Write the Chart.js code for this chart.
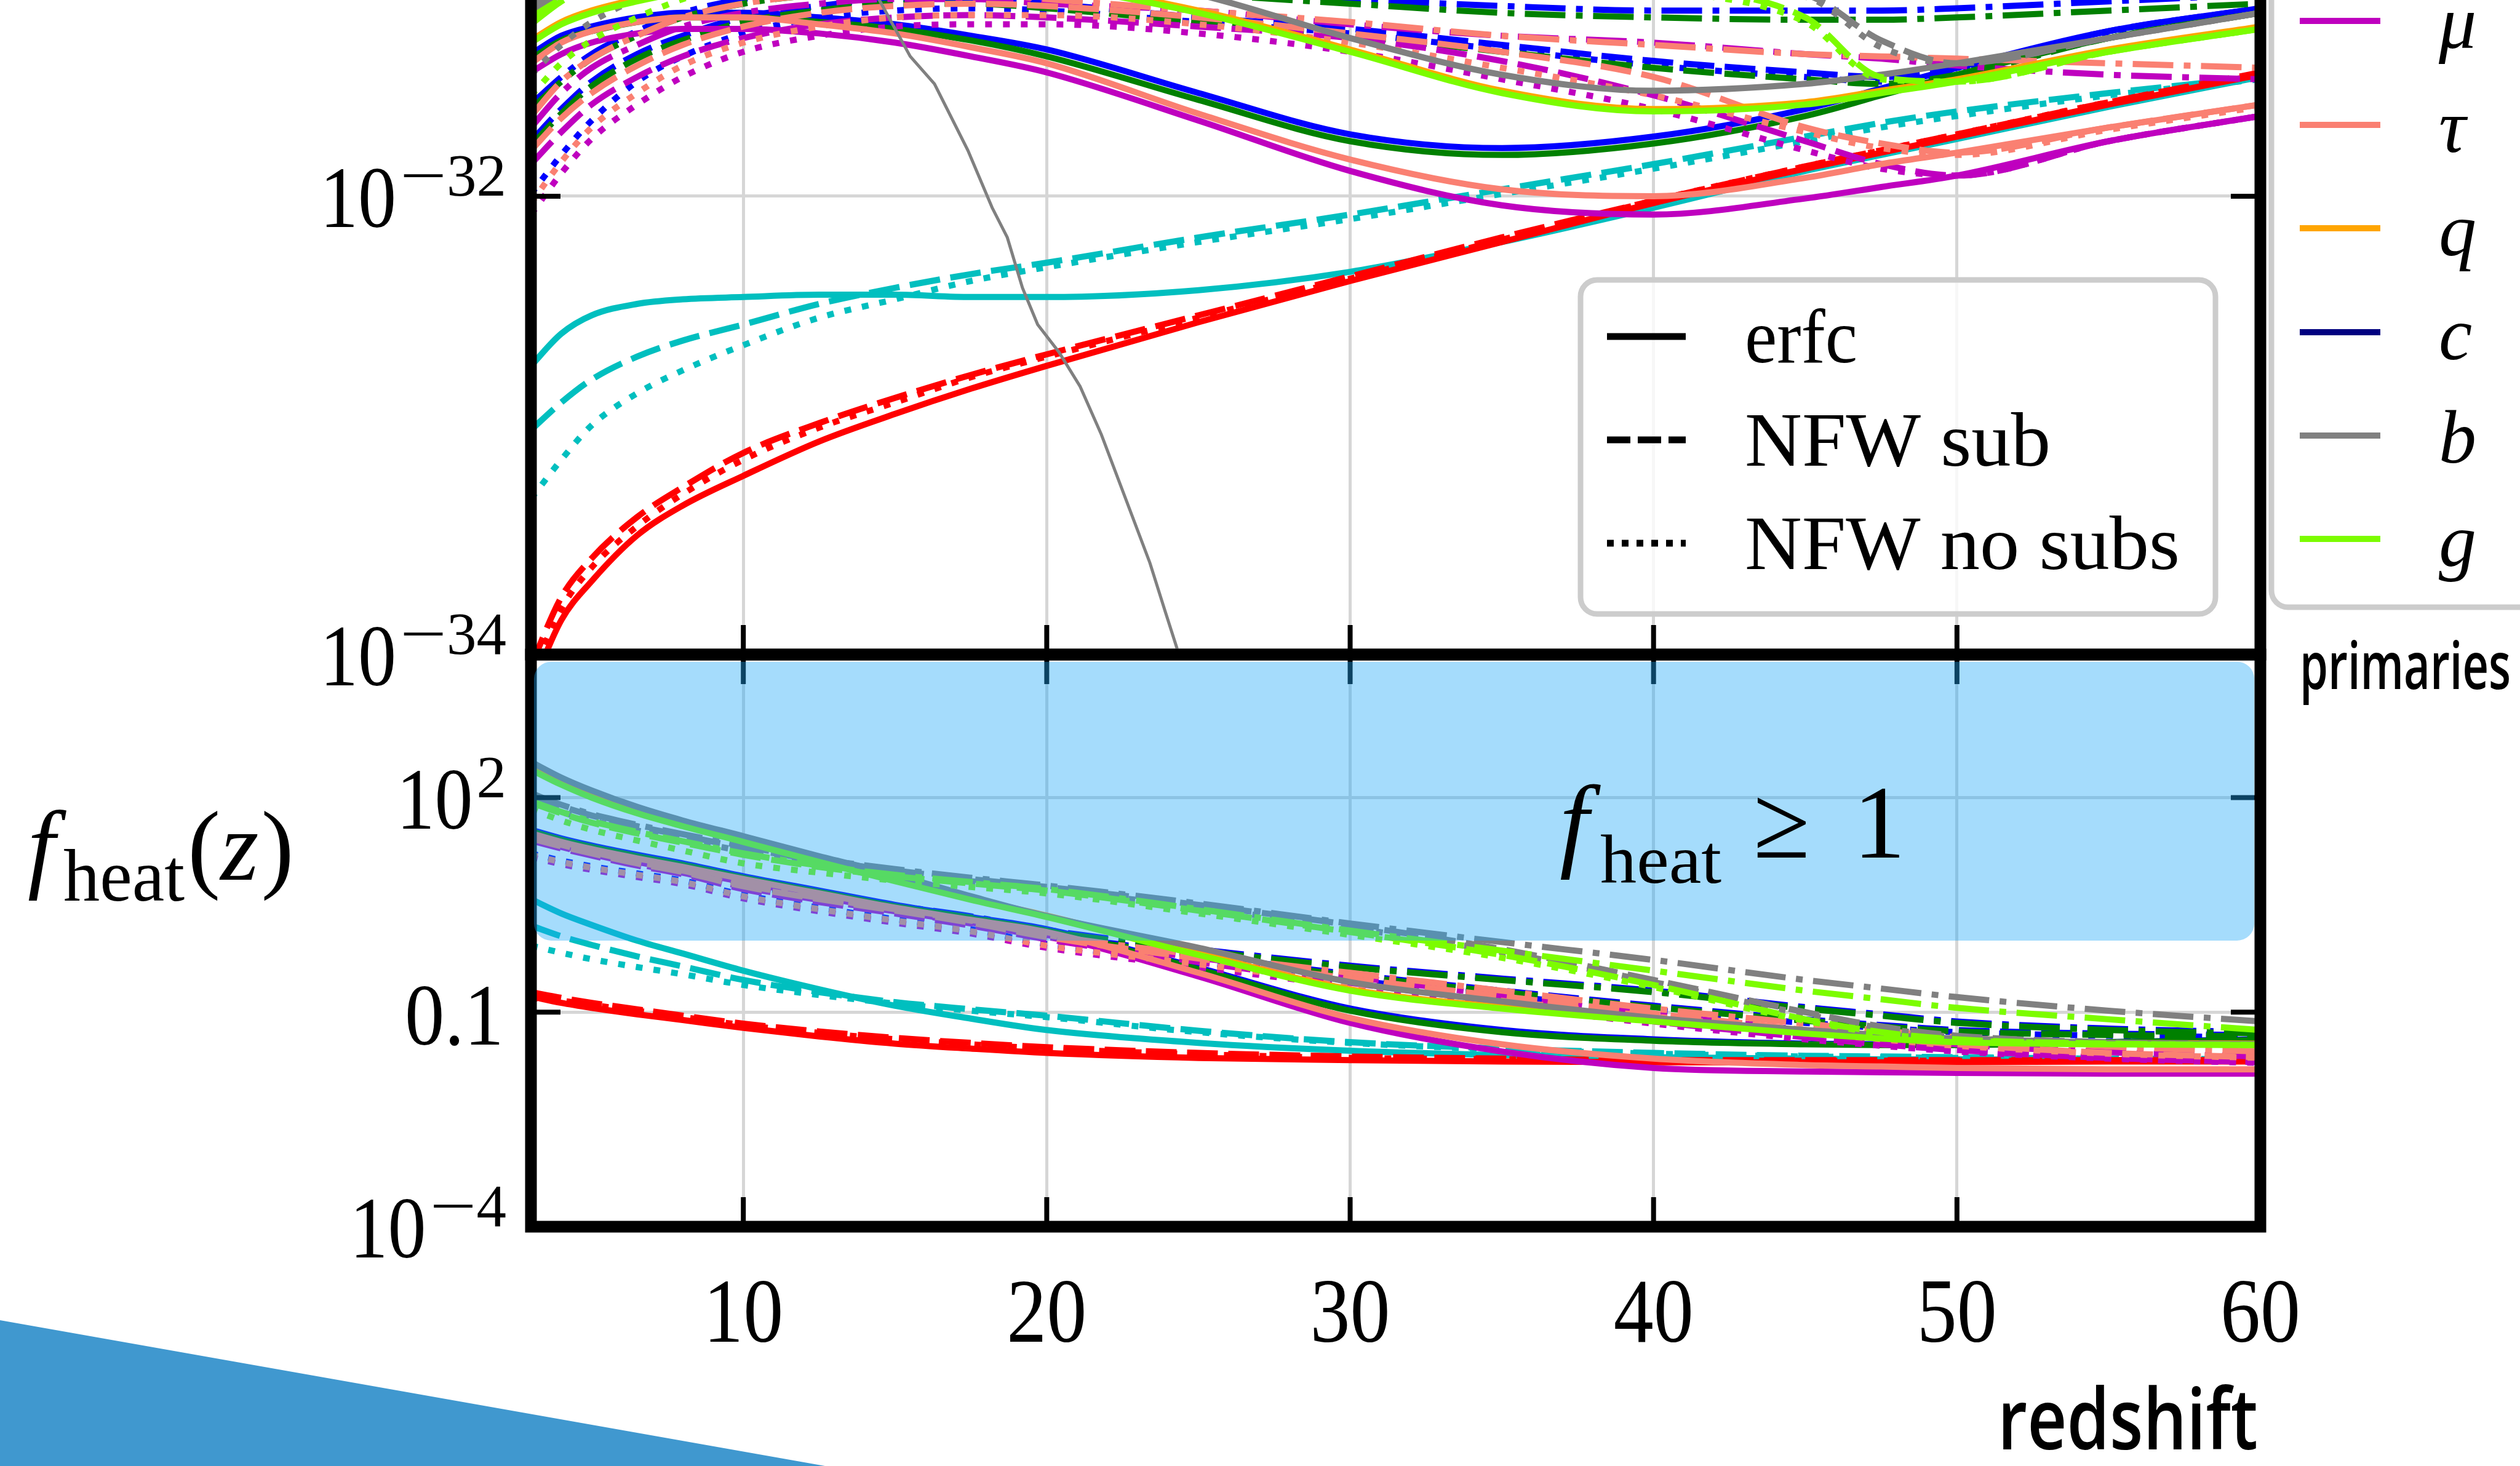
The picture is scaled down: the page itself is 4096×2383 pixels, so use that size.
<!DOCTYPE html>
<html lang="en">
<head>
<meta charset="UTF-8">
<title>Heating efficiency vs redshift</title>
<script src="https://cdn.jsdelivr.net/npm/chart.js@4.4.0/dist/chart.umd.min.js"></script>
<style>
    html, body { margin: 0; padding: 0; background: #fff; overflow: hidden; }
    canvas { position: absolute; left: 0; top: 0; }
</style>
</head>
<body>
<canvas id="lower" width="4096" height="2383"></canvas>
<canvas id="upper" width="4096" height="2383"></canvas>
<script>
// shared redshift grid for every curve
const redshift = [3, 4, 5, 6.5, 8, 10, 12.5, 15, 17.5, 20, 25, 30, 35, 40, 45, 47.5, 50, 55, 60];
const zTicks = [10, 20, 30, 40, 50, 60];
const upperTicks = [-34, -32];      // log10 tick positions
const lowerTicks = [-4, -1, 2];

// upper panel, log10 values (erfc = solid, sub = NFW sub, nosub = NFW no subs, dd = dash-dot)
const upW_erfc  = [-31.38, -31.30, -31.26, -31.22, -31.20, -31.20, -31.22, -31.25, -31.30, -31.36, -31.55, -31.73, -31.79, -31.74, -31.62, -31.53, -31.44, -31.28, -31.18];
const upW_sub   = [-31.76, -31.62, -31.50, -31.38, -31.30, -31.22, -31.17, -31.14, -31.14, -31.16, -31.22, -31.27, -31.34, -31.41, -31.46, -31.48, -31.44, -31.28, -31.18];
const upW_nosub = [-31.99, -31.82, -31.67, -31.50, -31.39, -31.29, -31.22, -31.19, -31.18, -31.19, -31.24, -31.29, -31.36, -31.43, -31.48, -31.50, -31.46, -31.30, -31.19];
const upW_dd    = [-31.60, -31.48, -31.38, -31.28, -31.20, -31.14, -31.10, -31.08, -31.07, -31.07, -31.10, -31.14, -31.17, -31.19, -31.19, -31.19, -31.18, -31.15, -31.12];
const upZ_erfc  = [-31.40, -31.32, -31.28, -31.24, -31.22, -31.22, -31.24, -31.27, -31.32, -31.39, -31.58, -31.76, -31.82, -31.77, -31.65, -31.56, -31.47, -31.31, -31.20];
const upZ_sub   = [-31.78, -31.64, -31.52, -31.40, -31.32, -31.24, -31.19, -31.16, -31.16, -31.18, -31.24, -31.30, -31.37, -31.44, -31.49, -31.51, -31.47, -31.31, -31.20];
const upZ_dd    = [-31.62, -31.50, -31.40, -31.30, -31.22, -31.16, -31.12, -31.10, -31.09, -31.09, -31.12, -31.16, -31.20, -31.22, -31.23, -31.23, -31.22, -31.19, -31.16];
const upGam_erfc  = [-32.74, -32.60, -32.52, -32.47, -32.45, -32.44, -32.43, -32.43, -32.44, -32.44, -32.41, -32.33, -32.20, -32.05, -31.89, -31.82, -31.75, -31.61, -31.48];
const upGam_sub   = [-33.02, -32.90, -32.80, -32.70, -32.63, -32.56, -32.47, -32.40, -32.34, -32.29, -32.18, -32.08, -31.97, -31.86, -31.74, -31.68, -31.63, -31.55, -31.48];
const upGam_nosub = [-33.32, -33.15, -33.00, -32.86, -32.76, -32.65, -32.53, -32.45, -32.37, -32.31, -32.20, -32.10, -31.99, -31.88, -31.76, -31.70, -31.65, -31.56, -31.49];
const upE_erfc  = [-34.15, -33.85, -33.68, -33.48, -33.35, -33.22, -33.07, -32.95, -32.84, -32.74, -32.55, -32.37, -32.20, -32.03, -31.88, -31.81, -31.74, -31.60, -31.47];
const upE_sub   = [-34.05, -33.75, -33.58, -33.40, -33.27, -33.12, -32.99, -32.88, -32.78, -32.69, -32.52, -32.35, -32.18, -32.02, -31.87, -31.80, -31.73, -31.59, -31.46];
const upE_nosub = [-34.10, -33.80, -33.62, -33.44, -33.30, -33.15, -33.01, -32.90, -32.79, -32.70, -32.53, -32.36, -32.19, -32.02, -31.87, -31.80, -31.73, -31.59, -31.47];
const upMu_erfc  = [-31.46, -31.38, -31.33, -31.29, -31.27, -31.27, -31.29, -31.33, -31.39, -31.46, -31.67, -31.89, -32.04, -32.08, -32.01, -31.96, -31.91, -31.76, -31.65];
const upMu_sub   = [-31.86, -31.72, -31.60, -31.48, -31.39, -31.31, -31.25, -31.22, -31.21, -31.22, -31.26, -31.31, -31.41, -31.56, -31.76, -31.86, -31.91, -31.76, -31.65];
const upMu_nosub = [-32.08, -31.90, -31.75, -31.60, -31.48, -31.37, -31.30, -31.26, -31.25, -31.25, -31.29, -31.37, -31.49, -31.62, -31.80, -31.88, -31.91, -31.76, -31.65];
const upMu_dd    = [-31.70, -31.55, -31.44, -31.34, -31.26, -31.20, -31.16, -31.14, -31.14, -31.16, -31.19, -31.25, -31.30, -31.33, -31.38, -31.40, -31.43, -31.47, -31.49];
const upTau_erfc  = [-31.42, -31.33, -31.28, -31.24, -31.22, -31.22, -31.25, -31.29, -31.35, -31.42, -31.64, -31.84, -31.97, -32.00, -31.92, -31.86, -31.81, -31.70, -31.60];
const upTau_sub   = [-31.80, -31.66, -31.55, -31.43, -31.34, -31.26, -31.20, -31.17, -31.16, -31.17, -31.22, -31.29, -31.37, -31.48, -31.70, -31.77, -31.81, -31.70, -31.60];
const upTau_nosub = [-32.03, -31.85, -31.70, -31.55, -31.43, -31.33, -31.26, -31.22, -31.21, -31.21, -31.25, -31.33, -31.44, -31.56, -31.72, -31.79, -31.82, -31.71, -31.61];
const upTau_dd    = [-31.65, -31.50, -31.40, -31.30, -31.22, -31.16, -31.12, -31.10, -31.11, -31.14, -31.19, -31.24, -31.30, -31.34, -31.38, -31.39, -31.40, -31.42, -31.44];
const upQ_erfc  = [-31.32, -31.24, -31.19, -31.14, -31.10, -31.06, -31.04, -31.03, -31.04, -31.07, -31.19, -31.36, -31.54, -31.62, -31.59, -31.54, -31.49, -31.36, -31.26];
const upB_erfc  = [-31.18, -31.12, -31.08, -31.04, -31.01, -30.98, -30.97, -30.97, -30.98, -31.00, -31.12, -31.31, -31.47, -31.54, -31.51, -31.47, -31.42, -31.31, -31.20];
const upB_sub   = [-31.20, -31.12, -31.06, -31.01, -30.97, -30.93, -30.91, -30.90, -30.90, -30.91, -30.94, -30.98, -31.02, -31.06, -31.12, -31.32, -31.42, -31.31, -31.20];
const upB_nosub = [-31.47, -31.34, -31.24, -31.14, -31.07, -31.00, -30.96, -30.94, -30.93, -30.93, -30.96, -31.00, -31.04, -31.08, -31.13, -31.35, -31.42, -31.31, -31.20];
const upB_dd    = [-31.17, -31.08, -31.02, -30.97, -30.93, -30.90, -30.88, -30.87, -30.86, -30.86, -30.87, -30.89, -30.91, -30.93, -30.95, -30.96, -30.97, -30.98, -30.99];
const upG_erfc  = [-31.33, -31.25, -31.20, -31.15, -31.11, -31.07, -31.05, -31.04, -31.05, -31.08, -31.20, -31.37, -31.55, -31.63, -31.60, -31.55, -31.50, -31.37, -31.27];
const upG_sub   = [-31.22, -31.14, -31.08, -31.03, -30.99, -30.95, -30.93, -30.92, -30.92, -30.93, -30.96, -31.00, -31.04, -31.08, -31.22, -31.48, -31.50, -31.37, -31.27];
const upG_nosub = [-31.56, -31.42, -31.32, -31.22, -31.14, -31.06, -31.00, -30.97, -30.96, -30.96, -30.98, -31.02, -31.06, -31.10, -31.24, -31.49, -31.50, -31.37, -31.27];
const upG_dd    = [-31.25, -31.15, -31.08, -31.02, -30.98, -30.94, -30.92, -30.91, -30.90, -30.90, -30.91, -30.93, -30.95, -30.97, -30.99, -31.00, -31.01, -31.02, -31.03];

// thin b curve that falls through the upper panel
const bDropZ   = [14.3, 15.5, 16.3, 17.4, 18.2, 18.7, 19.2, 19.7, 20.4, 21.1, 21.8, 22.6, 23.4, 23.9, 24.6];
const bDropLog = [-31.10, -31.39, -31.51, -31.80, -32.05, -32.18, -32.40, -32.56, -32.68, -32.83, -33.04, -33.32, -33.60, -33.81, -34.10];

// lower panel, log10 f_heat
const loW_erfc  = [1.55, 1.43, 1.33, 1.20, 1.08, 0.90, 0.70, 0.50, 0.33, 0.16, -0.38, -0.95, -1.25, -1.38, -1.44, -1.45, -1.45, -1.42, -1.38];
const loW_sub   = [1.47, 1.36, 1.26, 1.12, 1.00, 0.80, 0.62, 0.46, 0.30, 0.10, -0.20, -0.47, -0.70, -0.91, -1.10, -1.18, -1.25, -1.30, -1.32];
const loW_nosub = [1.22, 1.12, 1.04, 0.94, 0.84, 0.64, 0.46, 0.30, 0.16, -0.05, -0.30, -0.55, -0.77, -0.97, -1.15, -1.22, -1.28, -1.33, -1.35];
const loW_dd    = [1.50, 1.39, 1.29, 1.15, 1.03, 0.83, 0.65, 0.49, 0.34, 0.15, -0.12, -0.35, -0.53, -0.70, -0.93, -1.03, -1.13, -1.23, -1.28];
const loZ_erfc  = [1.53, 1.41, 1.31, 1.18, 1.06, 0.88, 0.68, 0.48, 0.31, 0.14, -0.40, -0.98, -1.28, -1.40, -1.45, -1.46, -1.46, -1.42, -1.39];
const loZ_sub   = [1.45, 1.34, 1.24, 1.10, 0.98, 0.78, 0.60, 0.44, 0.28, 0.08, -0.22, -0.49, -0.72, -0.93, -1.12, -1.20, -1.27, -1.32, -1.34];
const loZ_dd    = [1.48, 1.37, 1.27, 1.13, 1.01, 0.81, 0.63, 0.47, 0.32, 0.13, -0.14, -0.37, -0.55, -0.72, -0.95, -1.05, -1.15, -1.25, -1.30];
const loGam_erfc  = [0.58, 0.38, 0.22, 0.00, -0.18, -0.42, -0.68, -0.91, -1.09, -1.25, -1.43, -1.54, -1.60, -1.63, -1.65, -1.66, -1.66, -1.67, -1.67];
const loGam_sub   = [0.21, 0.06, -0.06, -0.22, -0.36, -0.55, -0.72, -0.86, -0.96, -1.05, -1.26, -1.42, -1.51, -1.57, -1.61, -1.62, -1.63, -1.65, -1.66];
const loGam_nosub = [-0.07, -0.17, -0.26, -0.37, -0.47, -0.62, -0.76, -0.88, -0.98, -1.07, -1.28, -1.43, -1.52, -1.58, -1.62, -1.63, -1.64, -1.65, -1.66];
const loE_erfc  = [-0.78, -0.87, -0.94, -1.03, -1.11, -1.22, -1.34, -1.44, -1.51, -1.57, -1.64, -1.67, -1.69, -1.70, -1.70, -1.70, -1.70, -1.69, -1.69];
const loE_sub   = [-0.72, -0.80, -0.87, -0.96, -1.05, -1.16, -1.27, -1.36, -1.43, -1.49, -1.57, -1.62, -1.65, -1.67, -1.67, -1.67, -1.67, -1.67, -1.67];
const loE_nosub = [-0.80, -0.84, -0.90, -0.98, -1.07, -1.18, -1.29, -1.38, -1.45, -1.51, -1.59, -1.64, -1.66, -1.68, -1.68, -1.68, -1.68, -1.68, -1.68];
const loMu_erfc  = [1.45, 1.33, 1.23, 1.10, 0.98, 0.82, 0.62, 0.42, 0.25, 0.08, -0.50, -1.15, -1.55, -1.78, -1.83, -1.84, -1.85, -1.86, -1.86];
const loMu_sub   = [1.40, 1.29, 1.19, 1.05, 0.93, 0.72, 0.54, 0.38, 0.21, 0.02, -0.30, -0.59, -0.86, -1.13, -1.35, -1.45, -1.53, -1.64, -1.70];
const loMu_nosub = [1.17, 1.07, 0.99, 0.89, 0.79, 0.59, 0.41, 0.25, 0.10, -0.10, -0.37, -0.64, -0.90, -1.16, -1.38, -1.47, -1.55, -1.65, -1.71];
const loMu_dd    = [1.42, 1.31, 1.21, 1.07, 0.95, 0.75, 0.57, 0.41, 0.24, 0.05, -0.24, -0.50, -0.77, -1.03, -1.25, -1.35, -1.45, -1.56, -1.62];
const loTau_erfc  = [1.50, 1.38, 1.28, 1.15, 1.03, 0.86, 0.66, 0.46, 0.29, 0.12, -0.45, -1.08, -1.45, -1.65, -1.74, -1.76, -1.78, -1.80, -1.80];
const loTau_sub   = [1.43, 1.32, 1.22, 1.08, 0.96, 0.76, 0.58, 0.42, 0.25, 0.05, -0.25, -0.53, -0.78, -1.02, -1.25, -1.36, -1.45, -1.57, -1.63];
const loTau_nosub = [1.20, 1.10, 1.02, 0.92, 0.82, 0.62, 0.44, 0.28, 0.13, -0.07, -0.33, -0.60, -0.84, -1.06, -1.28, -1.38, -1.47, -1.58, -1.64];
const loTau_dd    = [1.45, 1.34, 1.24, 1.10, 0.98, 0.78, 0.60, 0.44, 0.28, 0.08, -0.20, -0.45, -0.70, -0.95, -1.16, -1.26, -1.35, -1.48, -1.55];
const loQ_erfc  = [2.41, 2.20, 2.02, 1.80, 1.62, 1.40, 1.12, 0.85, 0.59, 0.35, -0.18, -0.68, -0.93, -1.11, -1.28, -1.35, -1.40, -1.43, -1.44];
const loB_erfc  = [2.50, 2.28, 2.10, 1.87, 1.68, 1.46, 1.18, 0.92, 0.62, 0.34, -0.10, -0.58, -0.85, -1.08, -1.25, -1.32, -1.37, -1.43, -1.45];
const loB_sub   = [2.04, 1.88, 1.75, 1.60, 1.47, 1.30, 1.12, 0.98, 0.86, 0.75, 0.50, 0.22, -0.12, -0.55, -1.00, -1.20, -1.33, -1.42, -1.45];
const loB_nosub = [1.95, 1.80, 1.68, 1.54, 1.42, 1.25, 1.08, 0.95, 0.83, 0.72, 0.46, 0.18, -0.16, -0.58, -1.03, -1.22, -1.35, -1.43, -1.45];
const loB_dd    = [2.06, 1.90, 1.77, 1.62, 1.49, 1.32, 1.14, 1.00, 0.88, 0.77, 0.52, 0.24, -0.02, -0.27, -0.55, -0.67, -0.79, -0.98, -1.13];
const loG_erfc  = [2.39, 2.18, 2.00, 1.78, 1.60, 1.38, 1.10, 0.83, 0.57, 0.33, -0.20, -0.70, -0.95, -1.13, -1.30, -1.37, -1.42, -1.45, -1.46];
const loG_sub   = [1.93, 1.78, 1.65, 1.50, 1.37, 1.20, 1.03, 0.90, 0.80, 0.70, 0.42, 0.12, -0.20, -0.62, -1.10, -1.28, -1.38, -1.44, -1.46];
const loG_nosub = [1.84, 1.68, 1.55, 1.40, 1.26, 1.08, 0.95, 0.84, 0.75, 0.66, 0.38, 0.08, -0.24, -0.65, -1.12, -1.30, -1.39, -1.44, -1.46];
const loG_dd    = [1.95, 1.80, 1.67, 1.52, 1.39, 1.22, 1.05, 0.92, 0.82, 0.72, 0.44, 0.14, -0.14, -0.42, -0.70, -0.82, -0.94, -1.10, -1.25];

// f_heat >= 1 band, in data units
const bandZ = [3.1, 59.8];
const bandLog = [0, 3.9];

// legend entries
const primaryLabels = ['μ', 'τ', 'q', 'c', 'b', 'g'];
const profileLabels = ['erfc', 'NFW sub', 'NFW no subs'];

const colors = {
    W: '#0000ff', Z: '#008000', gam: '#00bfbf', e: '#ff0000', mu: '#bf00bf',
    tau: '#fa8072', q: '#ffa500', c: '#000080', b: '#808080', g: '#7cfc00'
};
const primaryColors = [colors.mu, colors.tau, colors.q, colors.c, colors.b, colors.g];
const dashes = { erfc: [], sub: [50, 17], nosub: [11, 18], dd: [66, 17, 11, 17] };

const SPINE = 19;
const TICK_LEN = 48;
const GRID = '#d6d6d6';
const serif = (px, italic) => (italic ? 'italic ' : '') + px + 'px "Liberation Serif", "Times New Roman", serif';
const sans = px => '600 ' + px + 'px "Open Sans", "Noto Sans", sans-serif';

function curve(ys, color, style, width = 10, xs = redshift, smooth = true) {
    return {
        data: xs.map((z, i) => ({ x: z, y: ys[i] })),
        borderColor: color,
        borderWidth: width,
        borderDash: dashes[style],
        borderCapStyle: 'butt',
        pointRadius: 0,
        fill: false,
        tension: smooth ? 0.4 : 0,
        cubicInterpolationMode: smooth ? 'monotone' : 'default'
    };
}

// listed bottom-to-top, reversed because Chart.js paints index 0 last
const upperSets = [
    curve(upW_erfc, colors.W, 'erfc'), curve(upW_sub, colors.W, 'sub'), curve(upW_nosub, colors.W, 'nosub'), curve(upW_dd, colors.W, 'dd'),
    curve(upZ_erfc, colors.Z, 'erfc'), curve(upZ_sub, colors.Z, 'sub'), curve(upZ_dd, colors.Z, 'dd'),
    curve(upGam_erfc, colors.gam, 'erfc'), curve(upGam_sub, colors.gam, 'sub'), curve(upGam_nosub, colors.gam, 'nosub'),
    curve(upE_erfc, colors.e, 'erfc'), curve(upE_sub, colors.e, 'sub'), curve(upE_nosub, colors.e, 'nosub'),
    curve(upMu_erfc, colors.mu, 'erfc'), curve(upMu_sub, colors.mu, 'sub'), curve(upMu_nosub, colors.mu, 'nosub'), curve(upMu_dd, colors.mu, 'dd'),
    curve(upTau_erfc, colors.tau, 'erfc'), curve(upTau_sub, colors.tau, 'sub'), curve(upTau_nosub, colors.tau, 'nosub'), curve(upTau_dd, colors.tau, 'dd'),
    curve(upQ_erfc, colors.q, 'erfc'),
    curve(upB_erfc, colors.b, 'erfc'), curve(upB_sub, colors.b, 'sub'), curve(upB_nosub, colors.b, 'nosub'), curve(upB_dd, colors.b, 'dd'),
    curve(bDropLog, colors.b, 'erfc', 5, bDropZ, false),
    curve(upG_erfc, colors.g, 'erfc'), curve(upG_sub, colors.g, 'sub'), curve(upG_nosub, colors.g, 'nosub'), curve(upG_dd, colors.g, 'dd')
].reverse();

const lowerSets = [
    curve(loW_erfc, colors.W, 'erfc'), curve(loW_sub, colors.W, 'sub'), curve(loW_nosub, colors.W, 'nosub'), curve(loW_dd, colors.W, 'dd'),
    curve(loZ_erfc, colors.Z, 'erfc'), curve(loZ_sub, colors.Z, 'sub'), curve(loZ_dd, colors.Z, 'dd'),
    curve(loGam_erfc, colors.gam, 'erfc'), curve(loGam_sub, colors.gam, 'sub'), curve(loGam_nosub, colors.gam, 'nosub'),
    curve(loE_erfc, colors.e, 'erfc'), curve(loE_sub, colors.e, 'sub'), curve(loE_nosub, colors.e, 'nosub'),
    curve(loMu_erfc, colors.mu, 'erfc'), curve(loMu_sub, colors.mu, 'sub'), curve(loMu_nosub, colors.mu, 'nosub'), curve(loMu_dd, colors.mu, 'dd'),
    curve(loTau_erfc, colors.tau, 'erfc'), curve(loTau_sub, colors.tau, 'sub'), curve(loTau_nosub, colors.tau, 'nosub'), curve(loTau_dd, colors.tau, 'dd'),
    curve(loQ_erfc, colors.q, 'erfc'),
    curve(loB_erfc, colors.b, 'erfc'), curve(loB_sub, colors.b, 'sub'), curve(loB_nosub, colors.b, 'nosub'), curve(loB_dd, colors.b, 'dd'),
    curve(loG_erfc, colors.g, 'erfc'), curve(loG_sub, colors.g, 'sub'), curve(loG_nosub, colors.g, 'nosub'), curve(loG_dd, colors.g, 'dd')
].reverse();

// text helper: optional target width squeezes/stretches horizontally
function txt(ctx, s, x, y, font, opts = {}) {
    ctx.font = font;
    const w = ctx.measureText(s).width;
    const sx = opts.width ? opts.width / w : 1;
    let left = x;
    if (opts.align === 'right') left = x - w * sx;
    else if (opts.align === 'center') left = x - w * sx / 2;
    ctx.save();
    ctx.translate(left, y);
    ctx.scale(sx, 1);
    ctx.textAlign = 'left';
    ctx.textBaseline = 'alphabetic';
    ctx.fillStyle = opts.color || '#000';
    ctx.fillText(s, 0, 0);
    ctx.restore();
    return left + w * sx;
}

function roundRectPath(ctx, x, y, w, h, r) {
    ctx.beginPath();
    ctx.moveTo(x + r, y);
    ctx.arcTo(x + w, y, x + w, y + h, r);
    ctx.arcTo(x + w, y + h, x, y + h, r);
    ctx.arcTo(x, y + h, x, y, r);
    ctx.arcTo(x, y, x + w, y, r);
    ctx.closePath();
}

// "10^n" / "0.1" labels left of the axis
function powerLabel(ctx, v, py) {
    const supRight = 823;
    if (v === -1) {
        txt(ctx, '0.1', 819, py + 53, serif(141), { width: 161, align: 'right' });
        return;
    }
    const digits = String(Math.abs(v));
    ctx.font = serif(97);
    const dw = ctx.measureText(digits).width;
    const minusW = v < 0 ? 76 : 0;
    const supLeft = supRight - dw - minusW;
    if (v < 0) txt(ctx, '−', supLeft, py - 1, serif(97), { width: minusW });
    txt(ctx, digits, supLeft + minusW, py - 1, serif(97));
    txt(ctx, '10', supLeft - 6, py + 50, serif(141), { width: 124, align: 'right' });
}

function inwardTicks(ctx, a, x, y, withTop) {
    ctx.strokeStyle = '#000';
    ctx.lineWidth = 8;
    ctx.lineCap = 'butt';
    ctx.setLineDash([]);
    ctx.beginPath();
    zTicks.forEach(v => {
        const px = x.getPixelForValue(v);
        ctx.moveTo(px, a.bottom); ctx.lineTo(px, a.bottom - TICK_LEN);
        if (withTop) { ctx.moveTo(px, a.top); ctx.lineTo(px, a.top + TICK_LEN); }
    });
    y.ticks.forEach(t => {
        const py = y.getPixelForValue(t.value);
        ctx.moveTo(a.left, py); ctx.lineTo(a.left + TICK_LEN, py);
        ctx.moveTo(a.right, py); ctx.lineTo(a.right - TICK_LEN, py);
    });
    ctx.stroke();
}

function profileLegend(ctx) {
    roundRectPath(ctx, 2569, 455, 1032, 543, 27);
    ctx.fillStyle = 'rgba(255,255,255,0.8)';
    ctx.fill();
    ctx.strokeStyle = '#cccccc';
    ctx.lineWidth = 9;
    ctx.setLineDash([]);
    ctx.stroke();
    const rows = [547, 715, 883];
    const handleDash = [[], [38, 12], [11, 13]];
    const widths = [183, 497, 707];
    rows.forEach((ry, i) => {
        ctx.strokeStyle = '#000';
        ctx.lineWidth = 11;
        ctx.lineCap = 'butt';
        ctx.setLineDash(handleDash[i]);
        ctx.beginPath();
        ctx.moveTo(2612, ry); ctx.lineTo(2740, ry);
        ctx.stroke();
        txt(ctx, profileLabels[i], 2836, ry + 42, serif(124), { width: widths[i] });
    });
    ctx.setLineDash([]);
}

function primaryLegend(ctx) {
    roundRectPath(ctx, 3692, -80, 520, 1067, 27);
    ctx.fillStyle = 'rgba(255,255,255,0.8)';
    ctx.fill();
    ctx.strokeStyle = '#cccccc';
    ctx.lineWidth = 9;
    ctx.setLineDash([]);
    ctx.stroke();
    const rows = [34, 203, 371, 540, 708, 876];
    rows.forEach((ry, i) => {
        ctx.strokeStyle = primaryColors[i];
        ctx.lineWidth = 10;
        ctx.lineCap = 'butt';
        ctx.beginPath();
        ctx.moveTo(3738, ry); ctx.lineTo(3869, ry);
        ctx.stroke();
        txt(ctx, primaryLabels[i], 3964, ry + 44, serif(122, true));
    });
    txt(ctx, 'primaries', 3738, 1120, sans(106), { width: 343 });
}

const upperDecor = {
    id: 'upperDecor',
    afterDatasetsDraw(chart) {
        const { ctx, chartArea: a, scales: { x, y } } = chart;
        ctx.save();
        inwardTicks(ctx, a, x, y, false);
        ctx.strokeStyle = '#000';
        ctx.lineWidth = SPINE;
        ctx.lineJoin = 'miter';
        ctx.beginPath();
        ctx.moveTo(a.left, -30); ctx.lineTo(a.left, a.bottom);
        ctx.lineTo(a.right, a.bottom); ctx.lineTo(a.right, -30);
        ctx.stroke();
        upperTicks.forEach(v => powerLabel(ctx, v, y.getPixelForValue(v)));
        profileLegend(ctx);
        primaryLegend(ctx);
        ctx.restore();
    }
};

const lowerDecor = {
    id: 'lowerDecor',
    afterDatasetsDraw(chart) {
        const { ctx, chartArea: a, scales: { x, y } } = chart;
        ctx.save();
        inwardTicks(ctx, a, x, y, true);
        ctx.strokeStyle = '#000';
        ctx.lineWidth = SPINE;
        ctx.lineJoin = 'miter';
        ctx.strokeRect(a.left, a.top, a.right - a.left, a.bottom - a.top);

        // translucent band over the curves
        const bx0 = x.getPixelForValue(bandZ[0]), bx1 = x.getPixelForValue(bandZ[1]);
        const by0 = y.getPixelForValue(bandLog[1]), by1 = y.getPixelForValue(bandLog[0]);
        roundRectPath(ctx, bx0, by0, bx1 - bx0, by1 - by0, 28);
        ctx.fillStyle = 'rgba(30,167,247,0.4)';
        ctx.fill();

        // f_heat >= 1
        txt(ctx, 'f', 2535, 1394, serif(170, true));
        txt(ctx, 'heat', 2601, 1435, serif(112), { width: 197 });
        txt(ctx, '≥', 2850, 1394, serif(170), { width: 92 });
        txt(ctx, '1', 3012, 1394, serif(170));

        // tick labels
        zTicks.forEach(v => txt(ctx, String(v), x.getPixelForValue(v), 2181, serif(148), { width: 130, align: 'center' }));
        lowerTicks.forEach(v => powerLabel(ctx, v, y.getPixelForValue(v)));

        // axis titles
        txt(ctx, 'f', 45, 1430, serif(160, true));
        txt(ctx, 'heat', 103, 1464, serif(120), { width: 197 });
        let cx = txt(ctx, '(', 305, 1430, serif(160));
        cx = txt(ctx, 'z', cx, 1430, serif(160, true));
        txt(ctx, ')', cx + 4, 1430, serif(160));
        txt(ctx, 'redshift', 3670, 2356, sans(138), { width: 423, align: 'right' });

        // slide corner
        ctx.fillStyle = '#4098cf';
        ctx.beginPath();
        ctx.moveTo(0, 2146); ctx.lineTo(1341, 2383); ctx.lineTo(0, 2383);
        ctx.closePath();
        ctx.fill();
        ctx.restore();
    }
};

function panel(id, datasets, yMin, yMax, yTicks, padding, decor) {
    return new Chart(document.getElementById(id), {
        type: 'line',
        data: { datasets },
        options: {
            responsive: false,
            animation: false,
            devicePixelRatio: 1,
            layout: { padding },
            plugins: { legend: { display: false }, tooltip: { enabled: false } },
            scales: {
                x: {
                    type: 'linear', min: 3, max: 60,
                    afterBuildTicks: s => { s.ticks = zTicks.map(v => ({ value: v })); },
                    afterFit: s => { s.height = 0; },
                    ticks: { display: false },
                    grid: { color: GRID, lineWidth: 5, drawTicks: false },
                    border: { display: false }
                },
                y: {
                    type: 'linear', min: yMin, max: yMax,
                    afterBuildTicks: s => { s.ticks = yTicks.map(v => ({ value: v })); },
                    afterFit: s => { s.width = 0; },
                    ticks: { display: false },
                    grid: { color: GRID, lineWidth: 5, drawTicks: false },
                    border: { display: false }
                }
            }
        },
        plugins: [decor]
    });
}

panel('lower', lowerSets, -4, 4, lowerTicks, { left: 863, right: 422, top: 1064, bottom: 389 }, lowerDecor);
panel('upper', upperSets, -34, -31.144, upperTicks, { left: 863, right: 422, top: 0, bottom: 1319 }, upperDecor);
</script>
</body>
</html>
